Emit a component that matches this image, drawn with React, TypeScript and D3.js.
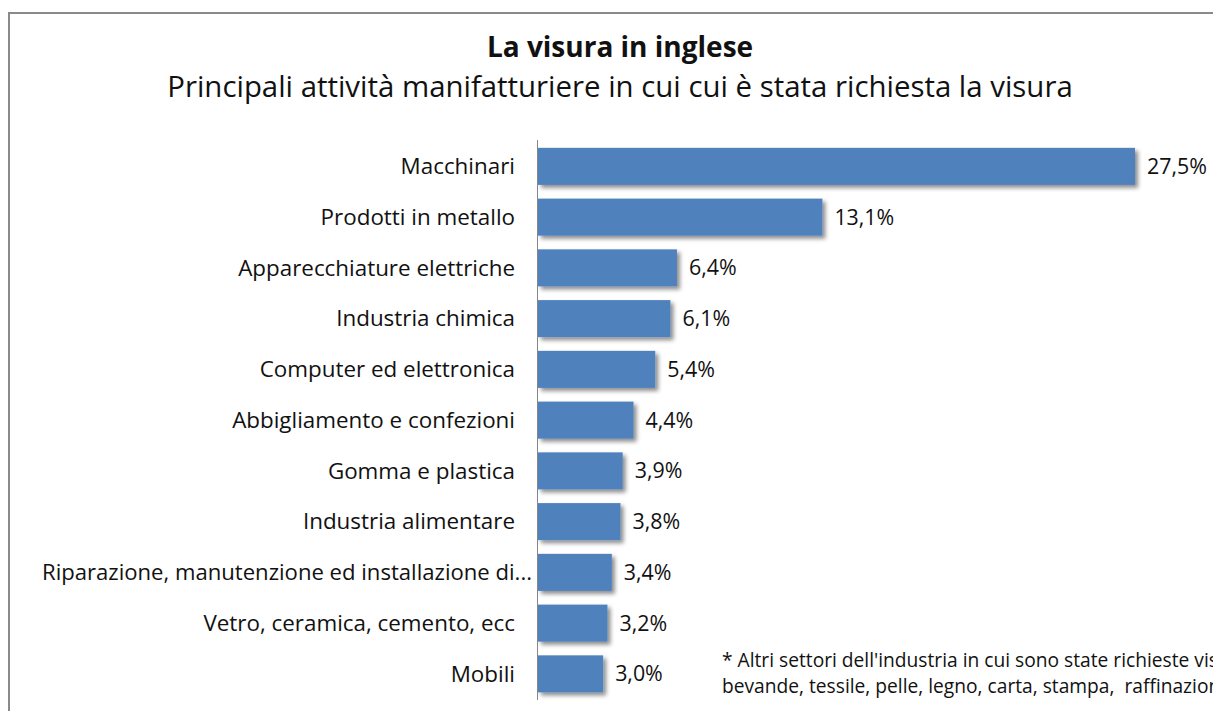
import React from "react";
import * as d3 from "d3";

const categories = [
  "Macchinari",
  "Prodotti in metallo",
  "Apparecchiature elettriche",
  "Industria chimica",
  "Computer ed elettronica",
  "Abbigliamento e confezioni",
  "Gomma e plastica",
  "Industria alimentare",
  "Riparazione, manutenzione ed installazione di...",
  "Vetro, ceramica, cemento, ecc",
  "Mobili",
];
const values = [27.5, 13.1, 6.4, 6.1, 5.4, 4.4, 3.9, 3.8, 3.4, 3.2, 3.0];
const title = "La visura in inglese";
const subtitle = "Principali attività manifatturiere in cui cui è stata richiesta la visura";
const footnote = [
  "* Altri settori dell'industria in cui sono state richieste visure in inglese:",
  "bevande, tessile, pelle, legno, carta, stampa,  raffinazione petrolio",
];

const W = 1213;
const H = 711;
const FONT = "'Open Sans', Lato, sans-serif";

export default function App() {
  const x0 = 538;
  const x = d3.scaleLinear().domain([0, 27.5]).range([x0, 1135]);
  const y = d3
    .scaleBand<string>()
    .domain(categories)
    .range([141, 141 + 50.75 * categories.length])
    .paddingInner(0.27)
    .paddingOuter(0.135);
  const fmt = (v: number) => d3.format(".1f")(v).replace(".", ",") + "%";

  return (
    <svg
      width={W}
      height={H}
      style={{ position: "absolute", left: 0, top: 0, background: "#fff" }}
      fontFamily={FONT}
    >
      <defs>
        <filter id="shadow" x="-10%" y="-30%" width="130%" height="180%">
          <feDropShadow dx="3" dy="3" stdDeviation="2" floodColor="#000" floodOpacity="0.45" />
        </filter>
      </defs>
      <rect x={0} y={0} width={W} height={H} fill="#fff" />
      <rect x={9} y={13} width={W + 100} height={H + 100} fill="#fff" stroke="#8a8a8a" strokeWidth={2} />
      <text x={620} y={57} textAnchor="middle" fontSize={28} fontWeight="bold" fill="#111">
        {title}
      </text>
      <text x={620} y={97} textAnchor="middle" fontSize={29.4} fill="#111">
        {subtitle}
      </text>
      {categories.map((c, i) => {
        const yy = y(c)!;
        const bw = y.bandwidth();
        return (
          <g key={c}>
            <rect
              x={x0}
              y={yy}
              width={x(values[i]) - x0}
              height={bw}
              fill="#4F81BD"
              filter="url(#shadow)"
            />
            <text
              x={x(values[i]) + 12}
              y={yy + bw / 2}
              dy="0.35em"
              fontSize={21.4}
              fill="#111"
            >
              {fmt(values[i])}
            </text>
            <text
              x={515}
              y={yy + bw / 2}
              dy="0.35em"
              textAnchor="end"
              fontSize={22.4}
              fill="#111"
              textLength={c.length > 40 ? 490 : undefined}
              lengthAdjust="spacingAndGlyphs"
              transform={c.length > 40 ? "translate(17,0)" : undefined}
            >
              {c}
            </text>
          </g>
        );
      })}
      <line x1={x0 - 0.5} x2={x0 - 0.5} y1={140} y2={700} stroke="#868686" strokeWidth={1} />
      {footnote.map((t, i) => (
        <text key={i} x={722} y={667 + i * 26} fontSize={19.2} fill="#111" style={{ whiteSpace: "pre" }}>
          {t}
        </text>
      ))}
    </svg>
  );
}
